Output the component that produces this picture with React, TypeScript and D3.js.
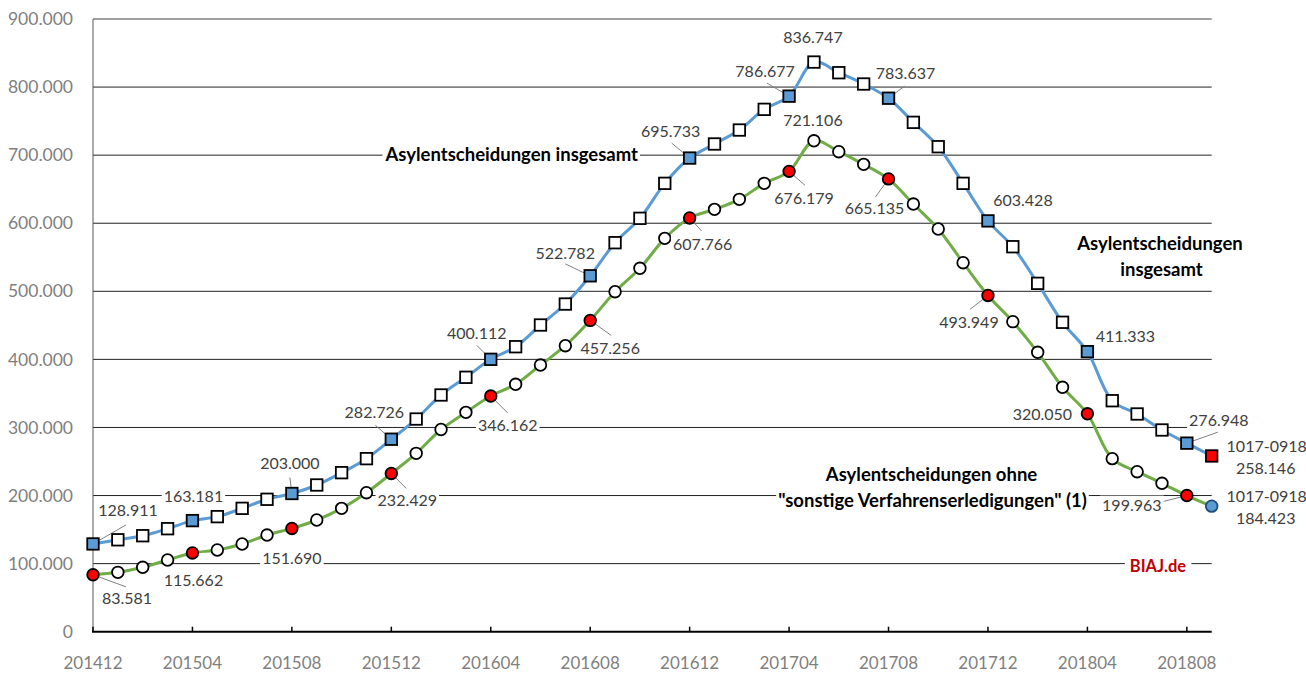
import { useEffect, useRef } from "react";
import * as d3 from "d3";

// months 201412 .. 201809
const months = [
  "201412", "201501", "201502", "201503", "201504", "201505", "201506", "201507",
  "201508", "201509", "201510", "201511", "201512", "201601", "201602", "201603",
  "201604", "201605", "201606", "201607", "201608", "201609", "201610", "201611",
  "201612", "201701", "201702", "201703", "201704", "201705", "201706", "201707",
  "201708", "201709", "201710", "201711", "201712", "201801", "201802", "201803",
  "201804", "201805", "201806", "201807", "201808", "201809",
];

// Asylentscheidungen insgesamt (12-Monats-Summe)
const totalValues = [
  128911, 135000, 141000, 151300, 163181, 169000, 181200, 194500,
  203000, 215500, 233600, 254200, 282726, 312400, 347700, 373700,
  400112, 418600, 450500, 481300, 522782, 571400, 607200, 658600,
  695733, 716400, 736900, 767300, 786677, 836747, 821100, 804500,
  783637, 748200, 712400, 658600, 603428, 565500, 511700, 454500,
  411333, 339300, 319800, 296300, 276948, 258146,
];

// Asylentscheidungen ohne "sonstige Verfahrenserledigungen"
const ohneValues = [
  83581, 87200, 94600, 105300, 115662, 120000, 128800, 142000,
  151690, 164100, 181200, 204200, 232429, 262000, 297000, 322200,
  346162, 363400, 391700, 420100, 457256, 499400, 533800, 577800,
  607766, 620400, 635100, 658600, 676179, 721106, 705100, 686500,
  665135, 628200, 591500, 542000, 493949, 455400, 410400, 359000,
  320050, 254200, 235000, 218000, 199963, 184423,
];

const yTicks = [0, 100000, 200000, 300000, 400000, 500000, 600000, 700000, 800000, 900000];
const xTickMonths = ["201412", "201504", "201508", "201512", "201604", "201608", "201612",
  "201704", "201708", "201712", "201804", "201808"];

// label placement per labelled month: [dx, dy, leaderDx, leaderDy] (null = no leader)
const totalLabelPos: Record<number, [number, number, number | null, number | null]> = {
  0: [35, -34, 33, -19], 4: [1, -24, null, null], 8: [-2, -30, -2, -16],
  12: [-17, -27, -16, -14], 16: [-14, -26, -14, -14], 20: [-25, -22, -25, -12],
  24: [-19, -27, -18, -15], 28: [-24, -25, -22, -13], 29: [-1, -25, null, null],
  32: [17, -25, 16, -12], 36: [35, -20, null, null], 40: [38, -15, null, null],
  44: [32, -23, 31, -11],
};
const ohneLabelPos: Record<number, [number, number, number | null, number | null]> = {
  0: [34, 24, 33, 12], 4: [1, 27, null, null], 8: [0, 30, null, null],
  12: [16, 27, 15, 15], 16: [17, 29, 17, 17], 20: [20, 28, 21, 15],
  24: [13, 26, 12, 13], 28: [15, 27, 16, 14], 29: [-1, -20, null, null],
  32: [-14, 30, -13, 18], 36: [-19, 27, -18, 14], 40: [-45, 1, null, null],
  44: [-55, 10, -24, 6],
};

const BLUE = "#5b9bd5";
const GREEN = "#70ad47";
const FONT = "Lato, 'Open Sans', sans-serif";

export default function App() {
  const svgRef = useRef<SVGSVGElement>(null);

  useEffect(() => {
    document.body.style.margin = "0";
    const svg = d3.select(svgRef.current);
    svg.selectAll("*").remove();

    const x = d3.scalePoint<string>().domain(months).range([93, 1211.7]);
    const y = d3.scaleLinear().domain([0, 900000]).range([631.7, 19]);
    const de = d3.formatLocale({ decimal: ",", thousands: ".", grouping: [3], currency: ["", "€"] });
    const fmt = de.format(",d");

    // white box behind a text node
    const boxed = (g: any, pad = 2) => {
      g.each(function (this: SVGTextElement) {
        const b = this.getBBox();
        d3.select(this.parentNode as SVGGElement)
          .insert("rect", () => this)
          .attr("x", b.x - pad).attr("y", b.y + 0.5)
          .attr("width", b.width + pad * 2).attr("height", b.height - 1)
          .attr("fill", "#fff");
      });
    };

    // gridlines
    svg.append("g").selectAll("line")
      .data(yTicks.filter((t) => t > 0))
      .join("line")
      .attr("x1", 93).attr("x2", 1211.7)
      .attr("y1", (d) => y(d)).attr("y2", (d) => y(d))
      .attr("stroke", (d) => (d === 900000 ? "#7f7f7f" : "#222"))
      .attr("stroke-width", (d) => (d === 900000 ? 1.5 : 1));

    // left axis
    svg.append("line").attr("x1", 93).attr("x2", 93).attr("y1", y(900000)).attr("y2", y(0))
      .attr("stroke", "#595959").attr("stroke-width", 1);

    // y labels
    svg.append("g").selectAll("text").data(yTicks).join("text")
      .attr("x", 73).attr("y", (d) => y(d)).attr("dy", "0.35em")
      .attr("text-anchor", "end").attr("fill", "#7f7f7f")
      .style("font", `17.5px ${FONT}`).text((d) => fmt(d));

    // bottom axis
    svg.append("line").attr("x1", 92).attr("x2", 1211.7).attr("y1", y(0)).attr("y2", y(0))
      .attr("stroke", "#000").attr("stroke-width", 2);
    svg.append("g").selectAll("line").data(xTickMonths).join("line")
      .attr("x1", (d) => x(d)!).attr("x2", (d) => x(d)!)
      .attr("y1", y(0) - 5).attr("y2", y(0))
      .attr("stroke", "#000").attr("stroke-width", 1.5);
    svg.append("g").selectAll("text").data(xTickMonths).join("text")
      .attr("x", (d) => x(d)!).attr("y", 663).attr("dy", "0.35em")
      .attr("text-anchor", "middle").attr("fill", "#7f7f7f")
      .style("font", `17px ${FONT}`).text((d) => d);

    // annotations
    const ann = svg.append("g").style("font", `bold 18.5px ${FONT}`).attr("fill", "#000");
    const annot = (txt: string, cx: number, cy: number, color = "#000", pad = 2, size?: number) => {
      const t = ann.append("g").append("text")
        .attr("x", cx).attr("y", cy).attr("dy", "0.35em")
        .attr("text-anchor", "middle").attr("fill", color).text(txt);
      if (size) t.style("font-size", `${size}px`);
      boxed(t, pad);
    };
    annot("Asylentscheidungen insgesamt", 511.7, 155);
    annot("Asylentscheidungen", 1160, 244);
    annot("insgesamt", 1161.5, 270);
    annot("Asylentscheidungen ohne", 931.5, 475);
    annot("\"sonstige Verfahrenserledigungen\" (1)", 932.5, 501);
    annot("BIAJ.de", 1158, 566, "#c00000", 5, 16.5);

    // lines
    const line = d3.line<number>()
      .x((_, i) => x(months[i])!)
      .y((d) => y(d))
      .curve(d3.curveCatmullRom.alpha(0.5));
    svg.append("path").datum(totalValues).attr("d", line)
      .attr("fill", "none").attr("stroke", BLUE).attr("stroke-width", 3);
    svg.append("path").datum(ohneValues).attr("d", line)
      .attr("fill", "none").attr("stroke", GREEN).attr("stroke-width", 3);

    // leader lines
    const leaders = svg.append("g").attr("stroke", "#7f7f7f").attr("stroke-width", 1);
    const addLeaders = (vals: number[], pos: typeof totalLabelPos) => {
      Object.entries(pos).forEach(([k, p]) => {
        const i = +k;
        if (p[2] === null) return;
        const px = x(months[i])!, py = y(vals[i]);
        leaders.append("line").attr("x1", px).attr("y1", py)
          .attr("x2", px + p[2]).attr("y2", py + (p[3] as number));
      });
    };
    addLeaders(totalValues, totalLabelPos);
    addLeaders(ohneValues, ohneLabelPos);

    const last = months.length - 1;

    // markers
    const s = 11.5;
    svg.append("g").selectAll("rect").data(totalValues).join("rect")
      .attr("x", (_, i) => x(months[i])! - s / 2)
      .attr("y", (d) => y(d) - s / 2)
      .attr("width", s).attr("height", s)
      .attr("fill", (_, i) => (i === last ? "#ff0000" : i % 4 === 0 ? BLUE : "#fff"))
      .attr("stroke", "#000").attr("stroke-width", 1.8);
    svg.append("g").selectAll("circle").data(ohneValues).join("circle")
      .attr("cx", (_, i) => x(months[i])!)
      .attr("cy", (d) => y(d))
      .attr("r", 5.8)
      .attr("fill", (_, i) => (i === last ? BLUE : i % 4 === 0 ? "#ff0000" : "#fff"))
      .attr("stroke", (_, i) => (i === last ? "#1f4e79" : "#000")).attr("stroke-width", 1.8);

    // data labels
    const lab = svg.append("g").style("font", `16px ${FONT}`).attr("fill", "#404040");
    const addLabels = (vals: number[], pos: typeof totalLabelPos) => {
      Object.entries(pos).forEach(([k, p]) => {
        const i = +k;
        const t = lab.append("g").append("text")
          .attr("x", x(months[i])! + p[0]).attr("y", y(vals[i]) + p[1]).attr("dy", "0.35em")
          .attr("text-anchor", "middle").text(fmt(vals[i]));
        boxed(t, 2);
      });
    };
    addLabels(totalValues, totalLabelPos);
    addLabels(ohneValues, ohneLabelPos);

    // last points: two-line labels
    const lastLabel = (v: number, dy1: number, dy2: number) => {
      const px = x(months[last])! + 55, py = y(v);
      lab.append("text").attr("x", px).attr("y", py + dy1).attr("dy", "0.35em")
        .attr("text-anchor", "middle").text("1017-0918");
      lab.append("text").attr("x", px - 1).attr("y", py + dy2).attr("dy", "0.35em")
        .attr("text-anchor", "middle").text(fmt(v));
    };
    lastLabel(totalValues[last], -9.5, 12);
    lastLabel(ohneValues[last], -9.5, 12);
  }, []);

  return <svg ref={svgRef} width={1306} height={673} style={{ display: "block" }} />;
}
